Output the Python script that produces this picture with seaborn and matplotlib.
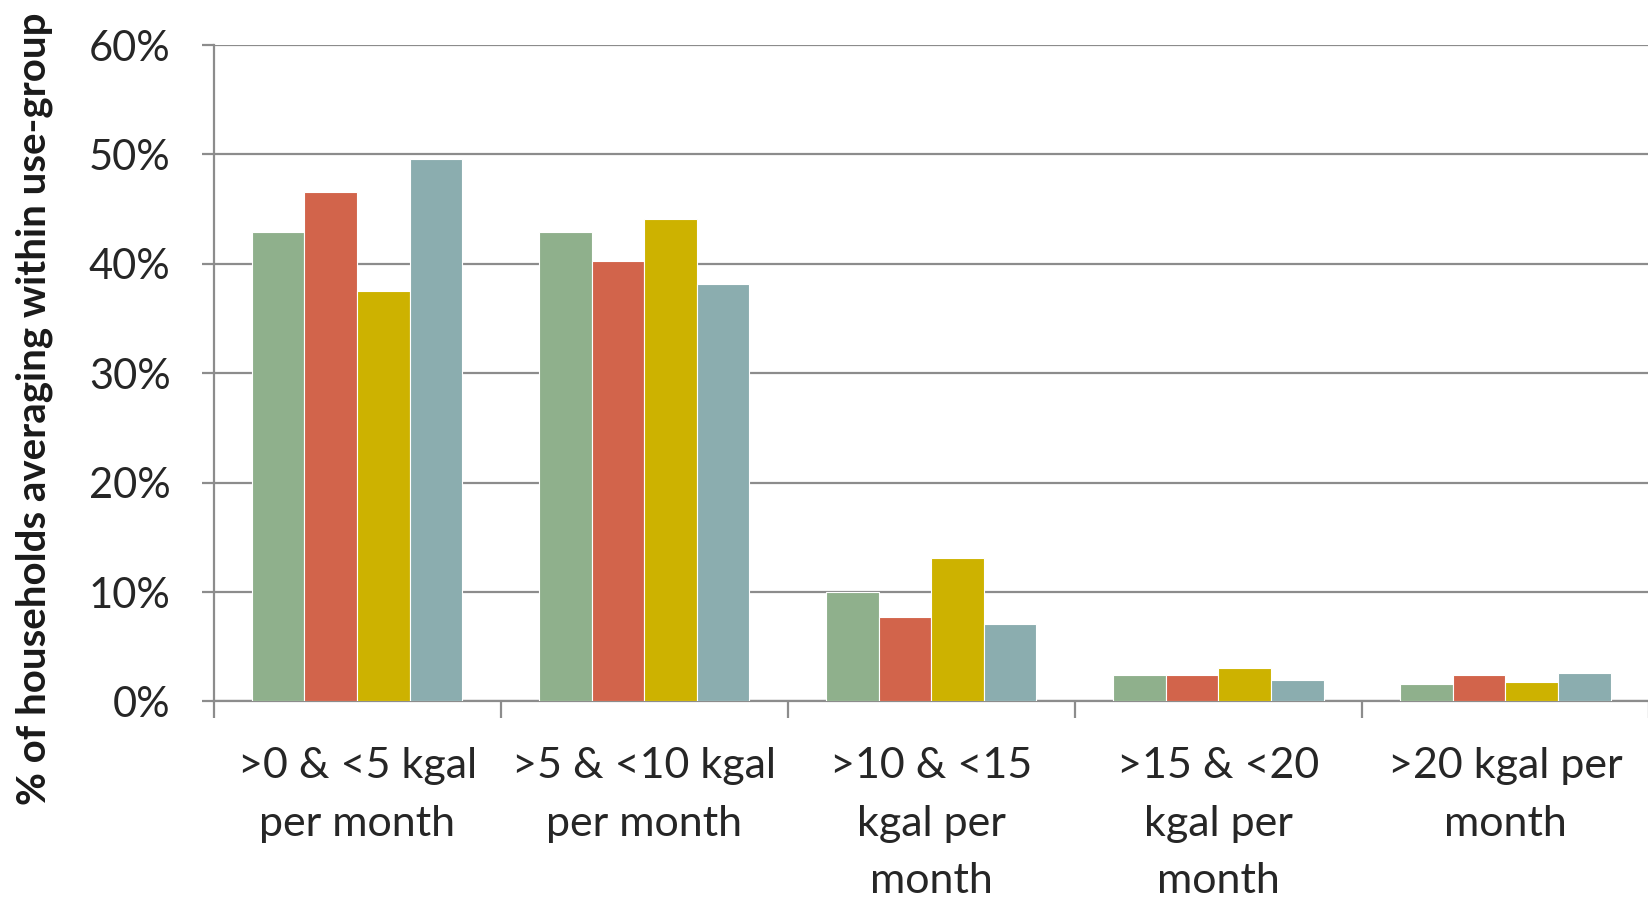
import matplotlib
matplotlib.use("Agg")
import matplotlib.pyplot as plt
import seaborn as sns
import pandas as pd
from matplotlib.ticker import FixedLocator, PercentFormatter

# Monthly use groups (x categories)
categories = [
    ">0 & <5 kgal\nper month",
    ">5 & <10 kgal\nper month",
    ">10 & <15\nkgal per\nmonth",
    ">15 & <20\nkgal per\nmonth",
    ">20 kgal per\nmonth",
]

# Share of households in each use group, one list per series (fractions)
series_names = ["Series 1", "Series 2", "Series 3", "Series 4"]
series_1 = [0.429, 0.429, 0.100, 0.024, 0.016]
series_2 = [0.466, 0.403, 0.077, 0.024, 0.024]
series_3 = [0.375, 0.441, 0.131, 0.031, 0.018]
series_4 = [0.496, 0.382, 0.071, 0.020, 0.026]

colors = ["#8FB08C", "#D2644B", "#CDB200", "#8BADAF"]

rows = []
for name, vals in zip(series_names, [series_1, series_2, series_3, series_4]):
    for cat, v in zip(categories, vals):
        rows.append({"category": cat, "series": name, "share": v})
df = pd.DataFrame(rows)

sns.set_theme(style="white")
plt.rcParams["font.family"] = ["Lato", "DejaVu Sans"]

fig = plt.figure(figsize=(16.49, 9.02), dpi=100)
ax = fig.add_axes([0.1295, 0.2223, 0.8705, 0.7277])

sns.barplot(
    data=df, x="category", y="share", hue="series",
    order=categories, hue_order=series_names, palette=colors,
    saturation=1, width=0.733, edgecolor="white", linewidth=0.8,
    legend=False, ax=ax, zorder=3,
)

grid_color = "#8C8C8C"
ax.set_xlim(-0.5, len(categories) - 0.5)
ax.set_ylim(0, 0.6)
ax.yaxis.set_major_locator(FixedLocator([0, 0.1, 0.2, 0.3, 0.4, 0.5, 0.6]))
ax.yaxis.set_major_formatter(PercentFormatter(1.0, decimals=0))
ax.grid(axis="y", color=grid_color, linewidth=1.6, zorder=0)
ax.set_axisbelow(True)

for side in ["top", "right"]:
    ax.spines[side].set_visible(False)
for side in ["left", "bottom"]:
    ax.spines[side].set_color(grid_color)
    ax.spines[side].set_linewidth(1.6)

# Category labels centred, tick marks on category boundaries
ax.set_xticks(range(len(categories)))
ax.set_xticklabels(categories, fontsize=31, color="#262626", linespacing=1.62)
ax.set_xticks([i - 0.5 for i in range(len(categories) + 1)], minor=True)
ax.tick_params(axis="x", which="major", length=0, pad=33)
ax.tick_params(axis="x", which="minor", length=12, width=1.6, color=grid_color, bottom=True)
ax.tick_params(axis="y", which="major", length=9, width=1.6, color=grid_color,
               labelsize=30, labelcolor="#262626", pad=22, left=True)

ax.set_xlabel("")
ax.set_ylabel("% of households averaging within use-group", fontsize=29,
              fontweight="bold", color="#1a1a1a")
ax.yaxis.set_label_coords(-0.125, 0.4455)
ax.yaxis.label.set_va("center")

fig.savefig("out.png", dpi=100)
